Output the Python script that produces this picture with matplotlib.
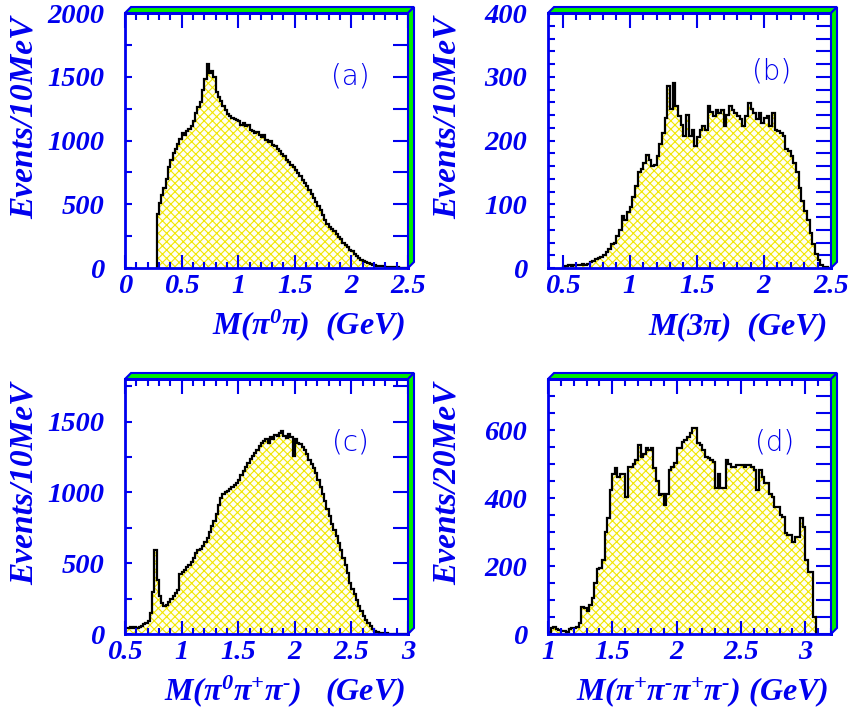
import numpy as np
import matplotlib.pyplot as plt
from matplotlib.patches import Polygon
from matplotlib.ticker import MultipleLocator, FuncFormatter, NullFormatter

# histogram contents (20 MeV bins)
a_lo, a_bw = 0.28, 0.02
a_counts = [420, 510, 570, 627, 700, 790, 850, 900, 935, 975, 1010, 1055, 1040, 1075, 1090, 1110,
            1150, 1215, 1260, 1300, 1400, 1480, 1600, 1530, 1545, 1500, 1380, 1340, 1310, 1270,
            1240, 1205, 1195, 1180, 1170, 1160, 1150, 1120, 1140, 1110, 1120, 1080, 1072, 1060,
            1065, 1046, 1030, 1040, 1006, 990, 1000, 967, 955, 935, 915, 895, 875, 850, 835, 810,
            795, 770, 745, 720, 690, 665, 640, 610, 580, 550, 520, 490, 455, 415, 375, 345, 325,
            308, 290, 268, 245, 225, 200, 180, 162, 145, 130, 112, 95, 80, 66, 55, 46, 38, 31, 26,
            21, 17, 15, 13, 12, 10, 8, 7, 6, 5, 4, 3, 2, 1, 1]

b_lo, b_bw = 0.50, 0.02
b_counts = [2, 3, 4, 3, 5, 4, 5, 6, 5, 7, 9, 11, 14, 16, 17, 21, 25, 30, 37, 40, 50, 60, 81, 76,
            88, 95, 112, 128, 150, 155, 165, 178, 170, 160, 162, 175, 195, 212, 235, 285, 250, 290,
            254, 238, 225, 207, 240, 207, 217, 191, 205, 217, 222, 217, 254, 245, 238, 248, 243,
            248, 222, 240, 254, 248, 243, 238, 233, 222, 238, 259, 250, 243, 233, 243, 227, 235,
            238, 222, 243, 217, 215, 212, 207, 186, 183, 175, 165, 150, 125, 105, 90, 75, 55, 38,
            22, 12, 5, 2, 1]

c_lo, c_bw = 0.50, 0.02
c_counts = [45, 42, 48, 44, 46, 45, 50, 60, 68, 80, 95, 150, 300, 590, 380, 270, 220, 200, 205,
            225, 250, 270, 290, 310, 425, 440, 450, 470, 490, 510, 540, 570, 590, 600, 620, 650,
            680, 720, 760, 800, 850, 910, 960, 990, 1000, 1010, 1025, 1040, 1055, 1065, 1090, 1120,
            1150, 1180, 1205, 1235, 1255, 1280, 1300, 1330, 1350, 1360, 1375, 1350, 1390, 1380,
            1405, 1395, 1420, 1435, 1400, 1385, 1410, 1390, 1260, 1380, 1350, 1340, 1320, 1300,
            1270, 1230, 1200, 1175, 1140, 1090, 1040, 990, 940, 880, 830, 780, 735, 690, 640, 595,
            540, 490, 430, 360, 320, 280, 240, 200, 165, 130, 100, 75, 55, 35, 22, 14, 9, 7, 5, 4,
            3, 2, 2, 1, 1, 1, 0, 0, 0]

d_lo, d_bw = 1.00, 0.02
d_counts = [5, 18, 20, 14, 12, 8, 10, 6, 14, 17, 18, 22, 32, 80, 76, 68, 86, 105, 150, 190, 195,
            218, 300, 340, 424, 472, 487, 462, 470, 472, 404, 490, 492, 500, 512, 556, 522, 530,
            546, 541, 546, 487, 450, 409, 413, 379, 413, 482, 490, 502, 546, 546, 566, 570, 580,
            590, 605, 605, 561, 556, 540, 522, 517, 512, 507, 428, 472, 428, 428, 512, 500, 492,
            492, 497, 497, 497, 492, 497, 497, 492, 482, 424, 482, 462, 443, 443, 413, 404, 375,
            375, 350, 345, 296, 291, 291, 272, 286, 286, 340, 316, 218, 183, 183, 51]

plt.rcParams['font.family'] = 'Liberation Serif'
plt.rcParams['font.weight'] = 'bold'
plt.rcParams['font.style'] = 'italic'
plt.rcParams['mathtext.fontset'] = 'custom'
plt.rcParams['mathtext.rm'] = 'Liberation Serif:bold:italic'
plt.rcParams['mathtext.it'] = 'Liberation Serif:bold:italic'
plt.rcParams['mathtext.bf'] = 'Liberation Serif:bold:italic'
plt.rcParams['hatch.linewidth'] = 0.8

BLUE = '#0000ee'
W, H = 849, 709

fig = plt.figure(figsize=(W / 100, H / 100), dpi=100)


def fx(x):
    return x / W


def fy(y):
    return 1 - y / H


def panel(box, lo, bw, counts, xlim, ylim, ystep, yminor, yrstep, tag, xlabel, ylabel, lab_pos):
    x0, y0, x1, y1 = box  # pixel box: left, top, right, bottom
    ax = fig.add_axes([fx(x0), fy(y1), (x1 - x0) / W, (y1 - y0) / H])
    edges = lo + bw * np.arange(len(counts) + 1)
    ax.stairs(counts, edges, fill=True, facecolor='#fffff4', edgecolor='#f2e600',
              hatch='xxxx', linewidth=0)
    ax.stairs(counts, edges, color='black', linewidth=1.6)
    ax.set_xlim(*xlim)
    ax.set_ylim(*ylim)

    for s in ax.spines.values():
        s.set_color(BLUE)
        s.set_linewidth(2)
    ax.xaxis.set_major_locator(MultipleLocator(0.5))
    ax.xaxis.set_minor_locator(MultipleLocator(0.1))
    ax.yaxis.set_major_locator(MultipleLocator(ystep))
    ax.yaxis.set_minor_locator(MultipleLocator(yminor))
    ax.xaxis.set_major_formatter(FuncFormatter(lambda v, p: f'{v:g}'))
    ax.yaxis.set_major_formatter(FuncFormatter(lambda v, p: f'{v:g}'))
    ax.tick_params(axis='x', which='major', direction='in', length=9.5, width=1.5,
                   color=BLUE, labelcolor=BLUE, labelsize=20.5, pad=4, top=False)
    ax.tick_params(axis='x', which='minor', direction='in', length=4, width=1.5,
                   color=BLUE, top=False)
    ax.tick_params(axis='y', which='both', direction='in', length=5, width=1.5,
                   color=BLUE, labelcolor=BLUE, labelsize=20.5, pad=15, right=False)

    top = ax.secondary_xaxis('top')
    top.xaxis.set_major_locator(MultipleLocator(0.5))
    top.xaxis.set_minor_locator(MultipleLocator(0.1))
    top.xaxis.set_major_formatter(NullFormatter())
    top.tick_params(which='major', direction='in', length=10.5, width=1.5, color=BLUE)
    top.tick_params(which='minor', direction='in', length=5, width=1.5, color=BLUE)
    top.spines['top'].set_color(BLUE)
    top.spines['top'].set_linewidth(2)

    right = ax.secondary_yaxis('right')
    right.yaxis.set_major_locator(MultipleLocator(yrstep))
    right.yaxis.set_minor_locator(MultipleLocator(yrstep))
    right.yaxis.set_major_formatter(NullFormatter())
    right.tick_params(which='both', direction='in', length=10.5, width=1.5, color=BLUE)
    right.spines['right'].set_color(BLUE)
    right.spines['right'].set_linewidth(2)

    ax.text(lab_pos[0], lab_pos[1], tag, transform=ax.transAxes, ha='center', va='center',
            color=BLUE, fontsize=20, family='DejaVu Sans', fontweight='light',
            fontstyle='normal')

    # 3D green frame on top and right
    d = 6
    top_strip = [(fx(x0), fy(y0)), (fx(x0 + d), fy(y0 - d)), (fx(x1 + d), fy(y0 - d)),
                 (fx(x1), fy(y0))]
    right_strip = [(fx(x1), fy(y1)), (fx(x1 + d), fy(y1 - d)), (fx(x1 + d), fy(y0 - d)),
                   (fx(x1), fy(y0))]
    for pts in (top_strip, right_strip):
        fig.patches.append(Polygon(pts, closed=True, transform=fig.transFigure,
                                   facecolor='#00ee00', edgecolor=BLUE, linewidth=1.5,
                                   zorder=5))

    # axis titles
    fig.text(fx(x1 - 3), fy(y1 + 66), xlabel, ha='right', va='baseline', color=BLUE,
             fontsize=23)
    fig.text(fx(x0 - 101), fy(y0 + 105), ylabel, ha='center', va='center', rotation=90,
             color=BLUE, fontsize=24)
    return ax


panel((125, 13, 408, 268), a_lo, a_bw, a_counts, (0, 2.5), (0, 2000), 500, 250, 250,
      '(a)', r'M(π$^{0}$π)  (GeV)', 'Events/10MeV', (0.795, 0.75))
panel((548, 13, 831, 268), b_lo, b_bw, b_counts, (0.39, 2.5), (0, 400), 100, 20, 20,
      '(b)', 'M(3π)  (GeV)', 'Events/10MeV', (0.79, 0.77))
panel((125, 379, 408, 634), c_lo, c_bw, c_counts, (0.5, 3.0), (0, 1800), 500, 250, 250,
      '(c)', r'M(π$^{0}$π$^{+}$π$^{\text{-}}$)   (GeV)', 'Events/10MeV', (0.795, 0.75))
panel((548, 379, 831, 634), d_lo, d_bw, d_counts, (1.0, 3.2), (0, 750), 200, 50, 50,
      '(d)', r'M(π$^{+}$π$^{\text{-}}$π$^{+}$π$^{\text{-}}$) (GeV)', 'Events/20MeV',
      (0.80, 0.75))

fig.savefig('out.png', dpi=100)
